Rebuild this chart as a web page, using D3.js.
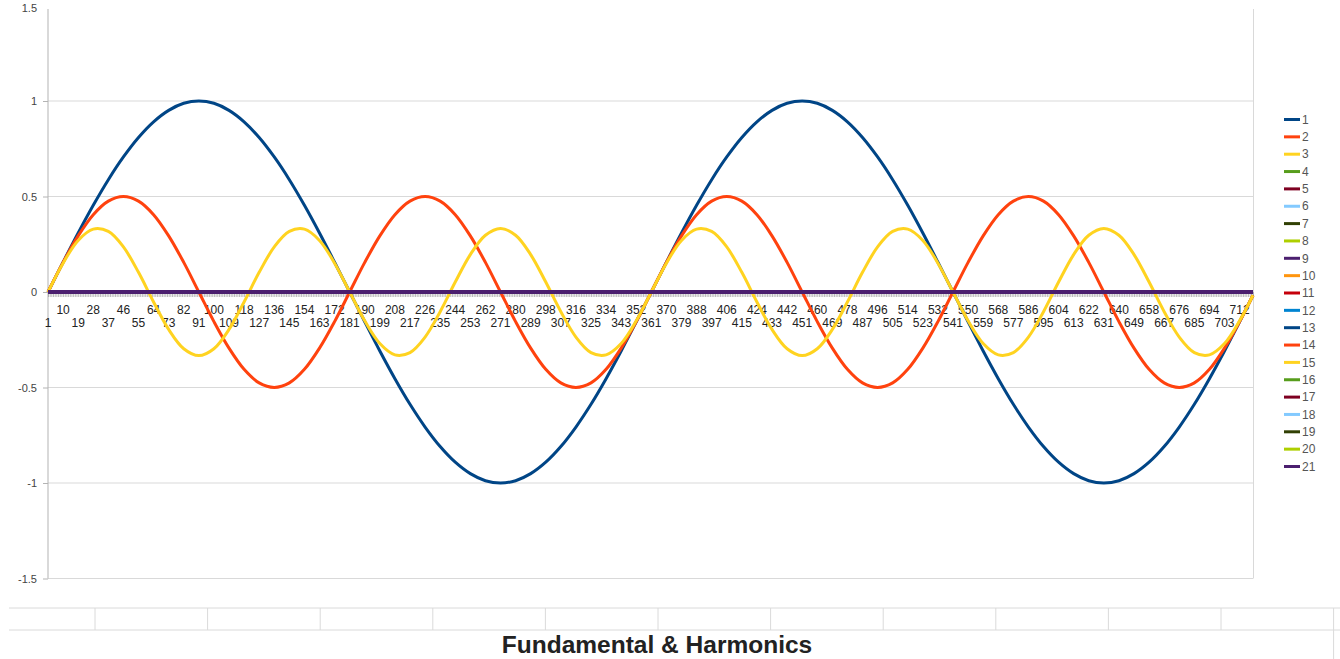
<!DOCTYPE html>
<html>
<head>
<meta charset="utf-8">
<script src="https://cdn.jsdelivr.net/npm/d3@7"></script>
<style>
  body { margin: 0; background: #fff; }
  svg { display: block; font-family: "Liberation Sans", Arial, sans-serif; }
</style>
</head>
<body>
<div id="chart"></div>
<script>
// series names and colours (LibreOffice default palette)
const seriesNames = d3.range(1, 22).map(String);
const seriesColors = ["#004586", "#ff420e", "#ffd320", "#579d1c", "#7e0021", "#83caff", "#314004",
  "#aecf00", "#4b1f6f", "#ff950e", "#c5000b", "#0084d1", "#004586", "#ff420e", "#ffd320",
  "#579d1c", "#7e0021", "#83caff", "#314004", "#aecf00", "#4b1f6f"];

// x positions (category number) where values were read, every 9 categories + last
const sampleCats = d3.range(1, 713, 9).concat([720]);

// fundamental
const fundamental = [
  0, 0.156, 0.309, 0.454, 0.588, 0.707, 0.809, 0.891, 0.951, 0.988, 1, 0.988, 0.951, 0.891, 0.809, 0.707, 0.588, 0.454, 0.309, 0.156,
  0, -0.156, -0.309, -0.454, -0.588, -0.707, -0.809, -0.891, -0.951, -0.988, -1, -0.988, -0.951, -0.891, -0.809, -0.707, -0.588, -0.454, -0.309, -0.156,
  0, 0.156, 0.309, 0.454, 0.588, 0.707, 0.809, 0.891, 0.951, 0.988, 1, 0.988, 0.951, 0.891, 0.809, 0.707, 0.588, 0.454, 0.309, 0.156,
  0, -0.156, -0.309, -0.454, -0.588, -0.707, -0.809, -0.891, -0.951, -0.988, -1, -0.988, -0.951, -0.891, -0.809, -0.707, -0.588, -0.454, -0.309, -0.156,
  -0.017];

// 2nd harmonic
const harmonic2 = [
  0, 0.155, 0.294, 0.405, 0.476, 0.5, 0.476, 0.405, 0.294, 0.155, 0, -0.155, -0.294, -0.405, -0.476, -0.5, -0.476, -0.405, -0.294, -0.155,
  0, 0.155, 0.294, 0.405, 0.476, 0.5, 0.476, 0.405, 0.294, 0.155, 0, -0.155, -0.294, -0.405, -0.476, -0.5, -0.476, -0.405, -0.294, -0.155,
  0, 0.155, 0.294, 0.405, 0.476, 0.5, 0.476, 0.405, 0.294, 0.155, 0, -0.155, -0.294, -0.405, -0.476, -0.5, -0.476, -0.405, -0.294, -0.155,
  0, 0.155, 0.294, 0.405, 0.476, 0.5, 0.476, 0.405, 0.294, 0.155, 0, -0.155, -0.294, -0.405, -0.476, -0.5, -0.476, -0.405, -0.294, -0.155,
  -0.017];

// 3rd harmonic
const harmonic3 = [
  0, 0.151, 0.270, 0.329, 0.317, 0.236, 0.103, -0.052, -0.196, -0.297, -0.333, -0.297, -0.196, -0.052, 0.103, 0.236, 0.317, 0.329, 0.270, 0.151,
  0, -0.151, -0.270, -0.329, -0.317, -0.236, -0.103, 0.052, 0.196, 0.297, 0.333, 0.297, 0.196, 0.052, -0.103, -0.236, -0.317, -0.329, -0.270, -0.151,
  0, 0.151, 0.270, 0.329, 0.317, 0.236, 0.103, -0.052, -0.196, -0.297, -0.333, -0.297, -0.196, -0.052, 0.103, 0.236, 0.317, 0.329, 0.270, 0.151,
  0, -0.151, -0.270, -0.329, -0.317, -0.236, -0.103, 0.052, 0.196, 0.297, 0.333, 0.297, 0.196, 0.052, -0.103, -0.236, -0.317, -0.329, -0.270, -0.151,
  -0.017];

// series 4..21 are flat at zero
const flatLine = [
  0, 0, 0, 0, 0, 0, 0, 0, 0, 0, 0, 0, 0, 0, 0, 0, 0, 0, 0, 0,
  0, 0, 0, 0, 0, 0, 0, 0, 0, 0, 0, 0, 0, 0, 0, 0, 0, 0, 0, 0,
  0, 0, 0, 0, 0, 0, 0, 0, 0, 0, 0, 0, 0, 0, 0, 0, 0, 0, 0, 0,
  0, 0, 0, 0, 0, 0, 0, 0, 0, 0, 0, 0, 0, 0, 0, 0, 0, 0, 0, 0,
  0];

const yTicks = [1.5, 1, 0.5, 0, -0.5, -1, -1.5];
const xLabels = d3.range(1, 720, 9);
const chartTitle = "Fundamental & Harmonics";

const seriesValues = [fundamental, harmonic2, harmonic3].concat(d3.range(18).map(() => flatLine));

const W = 1340, H = 659;
const plot = { left: 48, right: 1253, top: 5.5, bottom: 578.5 };

const svg = d3.select("#chart").append("svg")
  .attr("width", W)
  .attr("height", H);

const x = d3.scaleLinear().domain([1, 720]).range([plot.left, plot.right]);
const y = d3.scaleLinear().domain([-1.5, 1.5]).range([plot.bottom, plot.top]);

// gridlines (top one not visible in the picture)
svg.append("g")
  .selectAll("line")
  .data(yTicks.slice(1))
  .enter()
  .append("line")
  .attr("x1", plot.left)
  .attr("x2", plot.right)
  .attr("y1", d => y(d))
  .attr("y2", d => y(d))
  .style("stroke", "#d9d9d9")
  .style("stroke-width", 1);

// right border of plot
svg.append("line")
  .attr("x1", plot.right + 0.5).attr("x2", plot.right + 0.5)
  .attr("y1", 9).attr("y2", plot.bottom)
  .style("stroke", "#d9d9d9");

// y axis
const yAxis = svg.append("g")
  .attr("transform", `translate(${plot.left},0)`)
  .call(d3.axisLeft(y).tickValues(yTicks).tickSize(5).tickPadding(6).tickFormat(d => String(d)));
yAxis.select(".domain").attr("d", `M0,9V${plot.bottom}`).style("stroke", "#b3b3b3");
yAxis.selectAll(".tick line").style("stroke", "#b3b3b3");
yAxis.selectAll(".tick").filter(d => d === 1.5).select("line").remove();
yAxis.selectAll(".tick").filter(d => d === 1.5).select("text").attr("dy", "0.5em");
yAxis.selectAll("text")
  .attr("font-size", "11px")
  .attr("font-family", "Liberation Sans, Arial, sans-serif")
  .style("fill", "#444");

// x axis with a tick on every category
const xAxis = svg.append("g")
  .attr("transform", `translate(0,${y(0)})`)
  .call(d3.axisBottom(x).tickValues(d3.range(1, 721)).tickSize(5).tickFormat(""));
xAxis.select(".domain").style("stroke", "#b3b3b3");
xAxis.selectAll(".tick line").style("stroke", "#aaa").style("stroke-width", 0.8);

// staggered category labels
svg.append("g")
  .selectAll("text")
  .data(xLabels)
  .enter()
  .append("text")
  .attr("x", d => x(d))
  .attr("y", (d, i) => y(0) + (i % 2 === 0 ? 35 : 22))
  .attr("text-anchor", "middle")
  .attr("font-size", "12px")
  .style("fill", "#222")
  .text(d => d);

// lines
const lineGen = d3.line()
  .x(d => x(d[0]))
  .y(d => y(d[1]))
  .curve(d3.curveCatmullRom.alpha(0.5));

svg.append("g")
  .selectAll("path")
  .data(seriesValues)
  .enter()
  .append("path")
  .attr("d", vals => lineGen(vals.map((v, i) => [sampleCats[i], v])))
  .style("fill", "none")
  .style("stroke", (d, i) => seriesColors[i])
  .style("stroke-width", (d, i) => i < 3 ? 3 : 4)
  .attr("shape-rendering", (d, i) => i < 3 ? "auto" : "crispEdges");

// legend
const legend = svg.append("g")
  .selectAll("g")
  .data(seriesNames)
  .enter()
  .append("g")
  .attr("transform", (d, i) => `translate(1284,${119.5 + i * 17.35})`);

legend.append("line")
  .attr("x1", 0).attr("x2", 16)
  .style("stroke", (d, i) => seriesColors[i])
  .style("stroke-width", 3);

legend.append("text")
  .attr("x", 18)
  .attr("dy", "0.35em")
  .attr("font-size", "12px")
  .style("fill", "#555")
  .text(d => d);

// spreadsheet grid strip under the chart
svg.append("g")
  .selectAll("line")
  .data([608, 630])
  .enter()
  .append("line")
  .attr("x1", 9).attr("x2", W)
  .attr("y1", d => d).attr("y2", d => d)
  .style("stroke", "#dadada");

svg.append("g")
  .selectAll("line")
  .data(d3.range(12))
  .enter()
  .append("line")
  .attr("x1", d => 95 + d * 112.6).attr("x2", d => 95 + d * 112.6)
  .attr("y1", 608).attr("y2", d => d === 11 ? H : 630)
  .style("stroke", "#dadada");

// title
svg.append("text")
  .attr("x", 657)
  .attr("y", 653)
  .attr("text-anchor", "middle")
  .attr("font-size", "24.5px")
  .attr("font-weight", "bold")
  .style("fill", "#222")
  .text(chartTitle);
</script>
</body>
</html>
